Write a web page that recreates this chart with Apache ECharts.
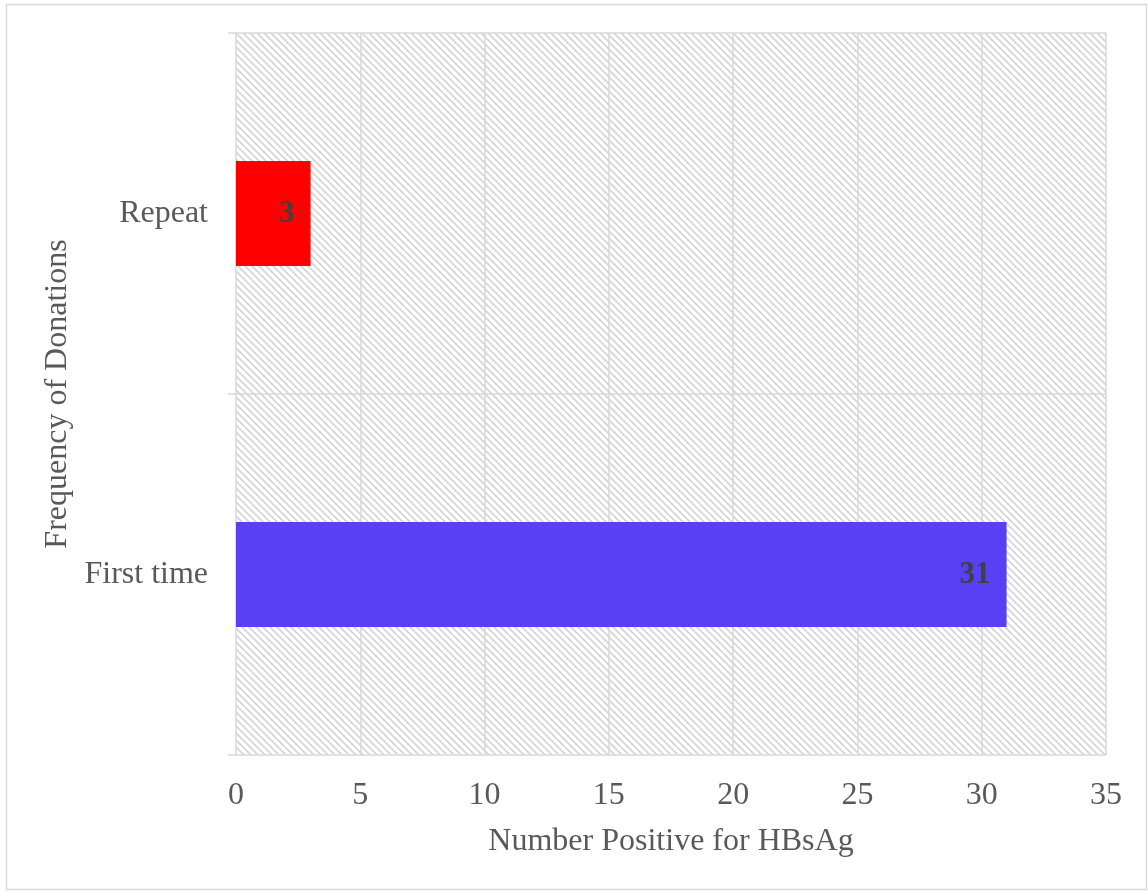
<!DOCTYPE html>
<html>
<head>
<meta charset="utf-8">
<script src="https://cdn.jsdelivr.net/npm/echarts@6/dist/echarts.min.js"></script>
<style>
  html, body { margin: 0; padding: 0; background: #fff; }
  #chart { width: 1148px; height: 892px; }
</style>
</head>
<body>
<div id="chart"></div>
<script>
// Donation frequency vs. HBsAg-positive counts
const categories = ['First time', 'Repeat'];
const positives = [31, 3];
const barColors = ['#5a40f4', '#ff0000'];
const xTicks = { min: 0, max: 35, interval: 5 };

const FONT = '"Liberation Serif", "Times New Roman", serif';

// Downward-diagonal hatch tile for the plot background
function hatchTile() {
  const s = 7;
  const c = document.createElement('canvas');
  c.width = s; c.height = s;
  const g = c.getContext('2d');
  g.fillStyle = '#ffffff';
  g.fillRect(0, 0, s, s);
  g.strokeStyle = '#d4d4d4';
  g.lineWidth = 1.6;
  [-s, 0, s].forEach(function (o) {
    g.beginPath();
    g.moveTo(o - 1, -1);
    g.lineTo(o + s + 1, s + 1);
    g.stroke();
  });
  return c;
}

const chart = echarts.init(document.getElementById('chart'), null, { renderer: 'canvas' });

chart.setOption({
  animation: false,
  backgroundColor: '#ffffff',
  graphic: [{
    type: 'rect',
    shape: { x: 6.5, y: 4.5, width: 1140, height: 885 },
    style: { fill: 'none', stroke: '#d9d9d9', lineWidth: 1.5 },
    silent: true,
    z: -1
  }],
  grid: {
    left: 236, right: 42, top: 33, bottom: 137,
    show: true,
    borderWidth: 0,
    backgroundColor: { image: hatchTile(), repeat: 'repeat' }
  },
  xAxis: {
    type: 'value',
    min: xTicks.min, max: xTicks.max, interval: xTicks.interval,
    name: 'Number Positive for HBsAg',
    nameLocation: 'middle',
    nameGap: 71,
    nameTextStyle: { fontFamily: FONT, fontSize: 32, color: '#595959' },
    axisLine: { show: false },
    axisTick: { show: false },
    axisLabel: { fontFamily: FONT, fontSize: 32, color: '#595959', margin: 25 },
    splitLine: { show: true, lineStyle: { color: '#d9d9d9', width: 1.5 } }
  },
  yAxis: {
    type: 'category',
    data: categories,
    name: 'Frequency of Donations',
    nameLocation: 'middle',
    nameGap: 160,
    nameTextStyle: { fontFamily: FONT, fontSize: 32, color: '#595959' },
    axisLine: { show: false },
    axisTick: { show: true, length: 8, lineStyle: { color: '#d9d9d9', width: 1.5 } },
    axisLabel: { fontFamily: FONT, fontSize: 32, color: '#595959', margin: 28 },
    splitLine: { show: true, lineStyle: { color: '#d9d9d9', width: 1.5 } }
  },
  series: [{
    type: 'bar',
    barWidth: 105,
    data: positives.map(function (v, i) {
      return { value: v, itemStyle: { color: barColors[i] } };
    }),
    label: {
      show: true,
      position: 'insideRight',
      distance: 16,
      fontFamily: FONT,
      fontSize: 31,
      fontWeight: 'bold',
      color: '#404040'
    }
  }]
});
</script>
</body>
</html>
